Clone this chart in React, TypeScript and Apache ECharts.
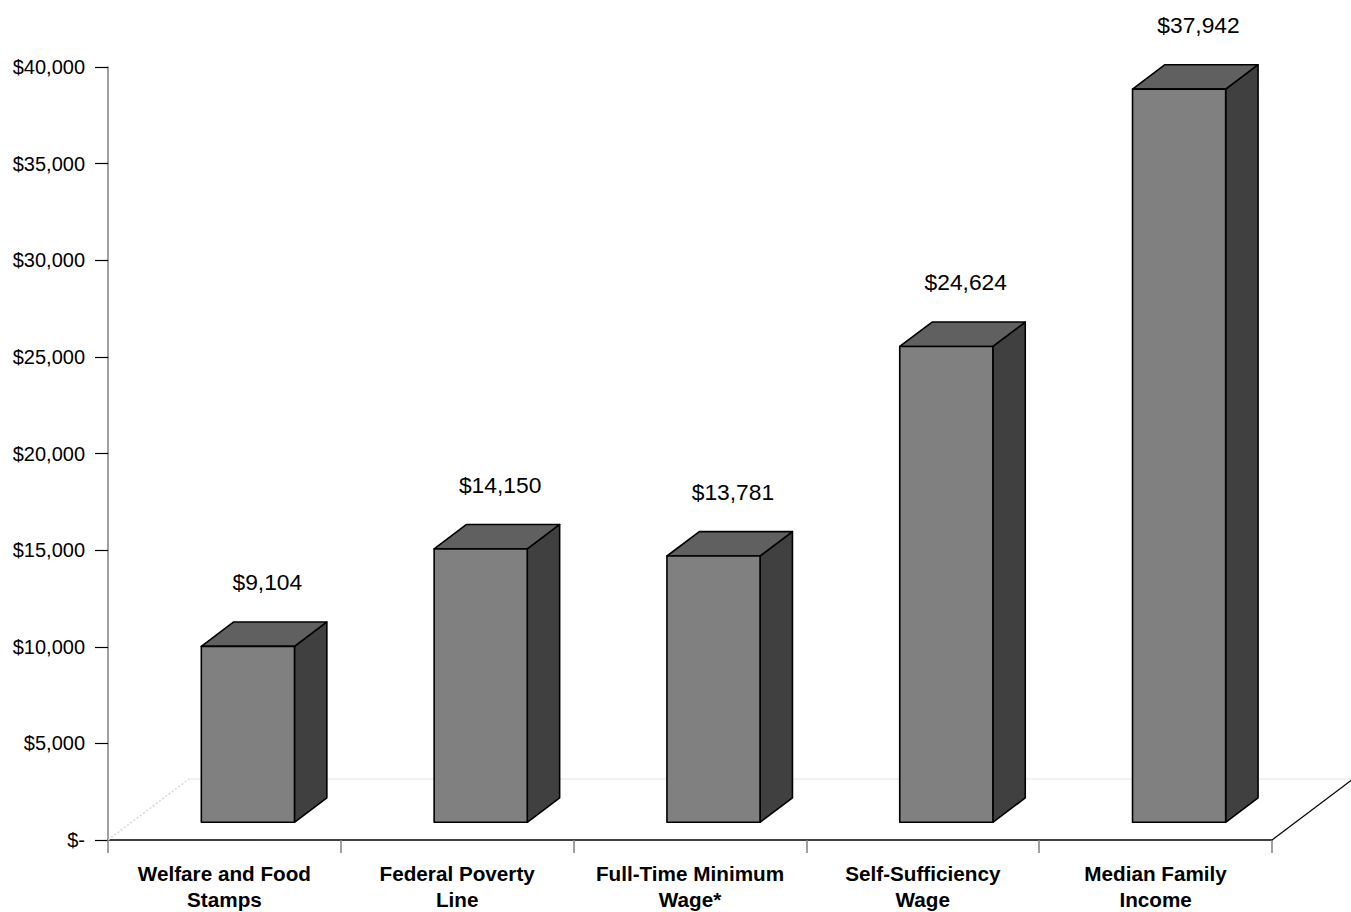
import React, { useEffect, useRef } from "react";
import * as echarts from "echarts";

const categories: string[] = [
  "Welfare and Food\nStamps",
  "Federal Poverty\nLine",
  "Full-Time Minimum\nWage*",
  "Self-Sufficiency\nWage",
  "Median Family\nIncome",
];
const values: number[] = [9104, 14150, 13781, 24624, 37942];
const yMin = 0;
const yMax = 40000;
const yStep = 5000;

// 3D projection (pixels) of the floor depth
const FLOOR_DX = 81;
const FLOOR_DY = -61;
const BAR_OFFSET = 0.29; // depth position of bar front face
const BAR_DEPTH = 0.4; // bar depth as a fraction of floor depth
const BAR_WIDTH = 0.4; // bar width as a fraction of the category band

const FONT = "'Liberation Sans', Arial, Helvetica, sans-serif";

function money(v: number): string {
  if (v === 0) return "$-";
  return "$" + v.toLocaleString("en-US");
}

export default function App() {
  const ref = useRef<HTMLDivElement>(null);

  useEffect(() => {
    if (!ref.current) return;
    const chart = echarts.init(ref.current, null, { renderer: "svg" });

    const barData = values.map((v, i) => [i, v]);

    const option: any = {
      animation: false,
      backgroundColor: "#ffffff",
      grid: { left: 108, right: 79, top: 67, bottom: 69, containLabel: false },
      xAxis: {
        type: "category",
        data: categories,
        boundaryGap: true,
        axisLine: { show: true, lineStyle: { color: "#000000", width: 1.5 } },
        axisTick: {
          show: true,
          length: 13,
          interval: 0,
          lineStyle: { color: "#808080", width: 1.5 },
        },
        axisLabel: {
          interval: 0,
          margin: 20,
          fontFamily: FONT,
          fontSize: 20.7,
          fontWeight: "bold",
          color: "#000000",
          lineHeight: 26,
        },
        splitLine: { show: false },
      },
      yAxis: {
        type: "value",
        min: yMin,
        max: yMax,
        interval: yStep,
        axisLine: { show: true, lineStyle: { color: "#808080", width: 1.5 } },
        axisTick: {
          show: true,
          length: 13,
          lineStyle: { color: "#000000", width: 1.2 },
        },
        axisLabel: {
          margin: 23,
          fontFamily: FONT,
          fontSize: 20,
          color: "#000000",
          formatter: (v: number) => money(v),
        },
        splitLine: { show: false },
      },
      series: [
        {
          type: "custom",
          name: "floor",
          z: 1,
          silent: true,
          data: [[0, 0]],
          encode: { x: 0, y: 1 },
          renderItem: (params: any, api: any) => {
            const c0 = api.coord([0, 0]);
            const band = api.size([1, 0])[0];
            const left = c0[0] - band / 2;
            const right = left + band * categories.length;
            const y = c0[1];
            return {
              type: "group",
              children: [
                {
                  type: "line",
                  shape: { x1: left, y1: y, x2: left + FLOOR_DX, y2: y + FLOOR_DY },
                  style: { stroke: "#d6d6d6", lineWidth: 1.5, lineDash: [2, 2] },
                },
                {
                  type: "line",
                  shape: {
                    x1: left + FLOOR_DX,
                    y1: y + FLOOR_DY,
                    x2: right + FLOOR_DX,
                    y2: y + FLOOR_DY,
                  },
                  style: { stroke: "#e4e4e4", lineWidth: 1.2 },
                },
                {
                  type: "line",
                  shape: { x1: right, y1: y, x2: right + FLOOR_DX, y2: y + FLOOR_DY },
                  style: { stroke: "#000000", lineWidth: 1.2 },
                },
              ],
            };
          },
        },
        {
          type: "custom",
          name: "bars",
          z: 3,
          data: barData,
          encode: { x: 0, y: 1 },
          renderItem: (params: any, api: any) => {
            const idx = api.value(0);
            const v = api.value(1);
            const base = api.coord([idx, 0]);
            const top = api.coord([idx, v]);
            const band = api.size([1, 0])[0];
            const w = band * BAR_WIDTH;
            const ox = FLOOR_DX * BAR_OFFSET;
            const oy = FLOOR_DY * BAR_OFFSET;
            const dx = FLOOR_DX * BAR_DEPTH;
            const dy = FLOOR_DY * BAR_DEPTH;
            const x0 = base[0] - w / 2 + ox;
            const x1 = x0 + w;
            const yb = base[1] + oy;
            const yt = top[1] + oy;
            const edge = { stroke: "#000000", lineWidth: 1.6, lineJoin: "round" };
            return {
              type: "group",
              children: [
                {
                  type: "polygon",
                  shape: {
                    points: [
                      [x1, yb],
                      [x1 + dx, yb + dy],
                      [x1 + dx, yt + dy],
                      [x1, yt],
                    ],
                  },
                  style: { fill: "#404040", ...edge },
                },
                {
                  type: "polygon",
                  shape: {
                    points: [
                      [x0, yt],
                      [x0 + dx, yt + dy],
                      [x1 + dx, yt + dy],
                      [x1, yt],
                    ],
                  },
                  style: { fill: "#606060", ...edge },
                },
                {
                  type: "rect",
                  shape: { x: x0, y: yt, width: w, height: yb - yt },
                  style: { fill: "#808080", ...edge },
                },
                {
                  type: "text",
                  x: base[0] + ox + dx * 0.6,
                  y: top[1] - 82,
                  style: {
                    text: money(v),
                    fill: "#000000",
                    fontFamily: FONT,
                    fontSize: 22.8,
                    align: "center",
                    verticalAlign: "middle",
                  },
                },
              ],
            };
          },
        },
      ],
    };

    chart.setOption(option);
    return () => chart.dispose();
  }, []);

  return (
    <div
      ref={ref}
      style={{ position: "absolute", left: 0, top: 0, width: 1351, height: 912 }}
    />
  );
}
